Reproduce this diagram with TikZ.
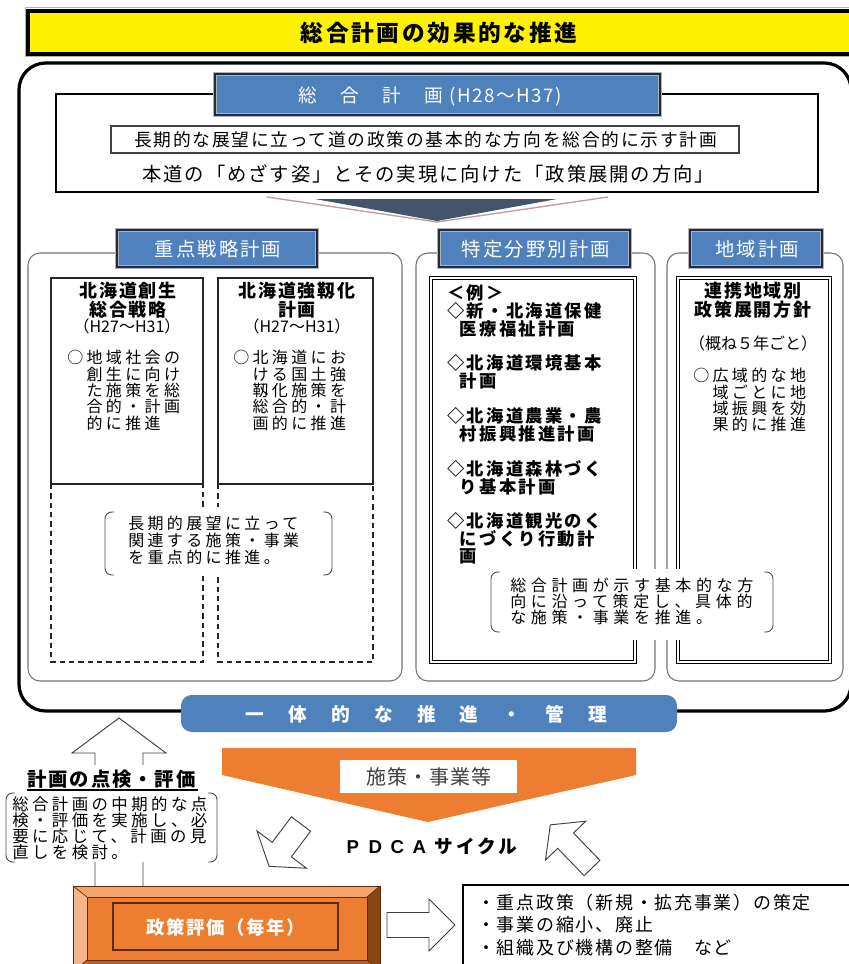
\documentclass[tikz,border=0pt]{standalone}
\usepackage{fontspec}
\setmainfont{Noto Sans CJK JP}
\newfontfamily\arialf{Liberation Sans}
\newcommand\jfs[2]{\fontsize{#1}{#2}\selectfont}
\newcommand\ls[1]{\addfontfeature{LetterSpace=#1}}
\newcommand\jind{\hspace*{1.21em}}
\newcommand\jindb{\hspace*{0.73em}}
\definecolor{blueA}{HTML}{4F81BD}
\definecolor{tabdark}{HTML}{1F2A44}
\definecolor{orangeA}{HTML}{ED7D31}
\definecolor{chevdark}{HTML}{44546A}
\definecolor{pinkline}{HTML}{C49A9A}
\definecolor{bevtop}{HTML}{F2A46C}
\definecolor{bevleft}{HTML}{F5B48A}
\definecolor{bevright}{HTML}{8A4515}
\definecolor{bevbot}{HTML}{C5611D}
\definecolor{bevline}{HTML}{5C2A08}
\tikzset{
  tabbox/.style={fill=blueA, draw=gray!60, double=tabdark, double distance=1.3pt, line width=0.5pt},
  tabtext/.style={text=white, inner sep=0pt, font=\jfs{14.5}{16}\ls{11}},
  groupline/.style={draw=black!55, line width=0.8pt, rounded corners=9pt},
  solidbox/.style={draw=black!85, line width=1pt},
  dblbox/.style={draw=black, double=white, double distance=1.2pt, line width=0.6pt},
  body/.style={font=\jfs{12}{12.3}\ls{21}, align=left, inner sep=0pt, anchor=north west},
  boldtitle/.style={font=\jfs{13.5}{12.3}\bfseries\ls{9}, align=center, inner sep=0pt, anchor=north},
  years/.style={font=\jfs{12}{13}, inner sep=0pt},
  brk/.style={draw=black!70, line width=0.7pt, rounded corners=5pt},
  hollow/.style={draw=black!75, line width=0.7pt, fill=white, line join=miter},
}
\newcommand\jbrackets[4]{%
  \draw[brk] (#1+9,#2) -- (#1,#2) -- (#1,#4) -- (#1+9,#4);
  \draw[brk] (#3-9,#2) -- (#3,#2) -- (#3,#4) -- (#3-9,#4);}
\newcommand\blockarrow[7]{%
  \draw[hollow, shift={(#1,#2)}, rotate=#3] (0,#7) -- (#5,#7) -- (#5,#6) -- (#4,0) -- (#5,-#6) -- (#5,-#7) -- (0,-#7) -- cycle;}
\begin{document}
\begin{tikzpicture}[x=0.75pt,y=-0.75pt]
\useasboundingbox (0,0) rectangle (849,964);
\clip (0,0) rectangle (849,964);
% title banner
\draw[gray!60, line width=0.6pt] (25.5,7.5) rectangle (870,56.5);
\draw[line width=3pt, fill=yellow] (28,10.5) rectangle (870,53.5);
\node[font=\jfs{17}{20}\bfseries\ls{12}, inner sep=0pt] (title) at (439,33) {総合計画の効果的な推進};
% big frame
\draw[line width=2.4pt, rounded corners=20pt] (19,63) rectangle (851,711);
% general plan
\draw[line width=1.3pt, fill=white] (56,94) rectangle (818,192);
\path[tabbox] (215,74) rectangle (660,115);
\node[text=white, inner sep=0pt, font=\jfs{14}{16}] (sogo) at (430,96) {総\hspace{17.5pt}合\hspace{17.5pt}計\hspace{17.5pt}画\hspace{5pt}{\ls{8}(H28〜H37)}};
\draw[draw=black!75, line width=0.8pt] (111,126) rectangle (739,153);
\node[font=\jfs{13.3}{15}\ls{10}, anchor=west, inner sep=0pt] (longview) at (134,140) {長期的な展望に立って道の政策の基本的な方向を総合的に示す計画};
\node[font=\jfs{14.5}{16}\ls{10}, anchor=west, inner sep=0pt] (mezasu) at (142,174) {本道の「めざす姿」とその実現に向けた「政策展開の方向」};
% chevron
\draw[pinkline, line width=1pt] (267,197) -- (437,222) -- (608,197);
\fill[chevdark] (315,199) -- (557,199) -- (437,221) -- cycle;
% group boxes
\draw[groupline] (28,253) rectangle (402,681);
\draw[groupline] (416,253) rectangle (655,681);
\draw[groupline] (667,253) rectangle (843,681);
\path[tabbox] (117,230) rectangle (317,267);
\path[tabbox] (439,230) rectangle (630,267);
\path[tabbox] (690,230) rectangle (822,267);
\node[tabtext] (t1) at (218,249) {重点戦略計画};
\node[tabtext] (t2) at (536,249) {特定分野別計画};
\node[tabtext] (t3) at (757,249) {地域計画};
% left boxes
\draw[solidbox] (51,278) rectangle (203,484);
\draw[solidbox, dashed, dash pattern=on 4pt off 3pt] (51,484) -- (51,662) -- (203,662) -- (203,484);
\draw[solidbox] (218,278) rectangle (373,484);
\draw[solidbox, dashed, dash pattern=on 4pt off 3pt] (218,484) -- (218,662) -- (373,662) -- (373,484);
\node[boldtitle] (sosei) at (128,282) {北海道創生\\総合戦略};
\node[years] (soseiy) at (127,326) {（H27〜H31）};
\node[body] (soseib) at (67,350) {○地域社会の\\\jind 創生に向け\\\jind た施策を総\\\jind 合的・計画\\\jind 的に推進};
\node[boldtitle] (kyojin) at (297,282) {北海道強靱化\\計画};
\node[years] (kyojiny) at (297,326) {（H27〜H31）};
\node[body] (kyojinb) at (233,350) {○北海道にお\\\jind ける国土強\\\jind 靱化施策を\\\jind 総合的・計\\\jind 画的に推進};
% middle / right inner boxes
\draw[dblbox] (431,278) rectangle (635,662);
\draw[dblbox] (678,278) rectangle (830,662);
\node[font=\jfs{13}{12.4}\bfseries\ls{13}, align=left, anchor=north west, inner sep=0pt] (rei) at (447,284.2) {＜例＞\\◇新・北海道保健\\\jindb 医療福祉計画\\[12.4pt]◇北海道環境基本\\\jindb 計画\\[12.4pt]◇北海道農業・農\\\jindb 村振興推進計画\\[12.4pt]◇北海道森林づく\\\jindb り基本計画\\[12.4pt]◇北海道観光のく\\\jindb にづくり行動計\\\jindb 画};
\node[boldtitle] (renkei) at (753,282) {連携地域別\\政策展開方針};
\node[years] (gaikun) at (753,343) {（概ね５年ごと）};
\node[body] (koiki) at (693,368) {○広域的な地\\\jind 域ごとに地\\\jind 域振興を効\\\jind 果的に推進};
% callouts inside
\fill[white] (100,507) rectangle (336,575);
\jbrackets{105}{512}{332}{575}
\node[body, font=\jfs{12}{12.75}\ls{21}] (choki) at (128,516) {長期的展望に立って\\関連する施策・事業\\を重点的に推進。};
\fill[white] (487,569) rectangle (777,640);
\jbrackets{491}{572}{773}{632}
\node[body, font=\jfs{12}{12}\ls{29}] (hoko) at (510,578) {総合計画が示す基本的な方\\向に沿って策定し、具体的\\な施策・事業を推進。};
% integrated bar
\fill[blueA, rounded corners=8pt] (181,695) rectangle (677,732);
\node[font=\jfs{14}{16}\bfseries\ls{130}, text=white, anchor=west, inner sep=0pt] (ittai) at (245,714) {一体的な推進・管理};
% orange pentagon
\fill[orangeA] (222,748) -- (636,748) -- (636,775) -- (428,822) -- (222,775) -- cycle;
\fill[white] (340,760) rectangle (517,793);
\node[font=\jfs{15}{17}\ls{6}, text=black!75, inner sep=0pt] (shisaku) at (429,777) {施策・事業等};
% PDCA
\blockarrow{301}{824}{233}{53}{32}{31}{12}
\blockarrow{592}{868}{134}{60}{38}{28}{11}
\node[inner sep=0pt] (pdca) at (432,846) {{\arialf\bfseries\fontsize{14}{16}\selectfont\makebox[16.5pt][l]{P}\makebox[16.5pt][l]{D}\makebox[16.5pt][l]{C}\makebox[16.5pt][l]{A}}{\jfs{14}{15}\bfseries\ls{16}サイクル}};
% up arrow and review
\blockarrow{119}{888}{90}{170}{135}{47}{24}
\fill[white] (4,765) rectangle (219,862);
\node[font=\jfs{14.5}{16}\bfseries\ls{10}, inner sep=0pt, anchor=west] (tenken) at (27,779) {計画の点検・評価};
\draw[line width=0.8pt] (27,790) -- (198,790);
\jbrackets{6}{793}{217}{862}
\node[body, font=\jfs{12.3}{12.2}\ls{21}] (chuki) at (12,796) {総合計画の中期的な点\\検・評価を実施し、必\\要に応じて、計画の見\\直しを検討。};
% bevel box
\fill[bevtop] (73,886) -- (380,886) -- (367,897) -- (87,897) -- cycle;
\fill[bevleft] (73,886) -- (87,897) -- (87,960) -- (73,972) -- cycle;
\fill[bevright] (380,886) -- (380,972) -- (367,960) -- (367,897) -- cycle;
\fill[bevbot] (73,972) -- (87,960) -- (367,960) -- (380,972) -- cycle;
\fill[orangeA] (87,897) rectangle (367,960);
\draw[bevline, line width=0.7pt] (73,886) rectangle (380,972);
\draw[bevline, line width=0.7pt] (87,897) rectangle (367,960);
\draw[bevline, line width=0.5pt] (73,886) -- (87,897) (380,886) -- (367,897) (73,972) -- (87,960) (380,972) -- (367,960);
\draw[bevline, line width=0.9pt] (113,903) rectangle (338,950);
\node[font=\jfs{13.8}{15}\bfseries\ls{9}, text=white, inner sep=0pt] (hyoka) at (226,927) {政策評価（毎年）};
% right arrow and result box
\blockarrow{387}{925}{0}{68}{42}{26}{12.5}
\draw[line width=1.4pt] (463,885) rectangle (860,975);
\node[font=\jfs{13.5}{16.9}\ls{9.6}, align=left, anchor=north west, inner sep=0pt] (result) at (477,893.5) {・重点政策（新規・拡充事業）の策定\\・事業の縮小、廃止\\・組織及び機構の整備　など};
\end{tikzpicture}
\end{document}
